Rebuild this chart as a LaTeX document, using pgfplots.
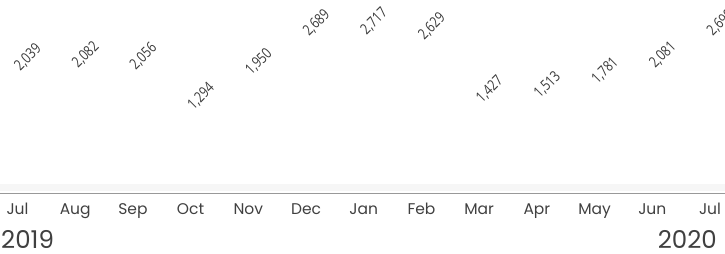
\documentclass[border=0pt]{standalone}
\usepackage{fontspec}
\usepackage{pgfplots}
\usepackage{pgfplotstable}
\pgfplotsset{compat=1.18}
\setmainfont{Poppins}
\newfontfamily\valfont[FakeStretch=0.8]{Open Sans}
\definecolor{lab}{HTML}{3A3A3A}
\definecolor{tickc}{HTML}{404040}

\pgfplotstableread{
x v
0 2039
1 2082
2 2056
3 1294
4 1950
5 2689
6 2717
7 2629
8 1427
9 1513
10 1781
11 2081
12 2690
}\data

\begin{document}
\begin{tikzpicture}
\begin{axis}[
  at={(0pt,0pt)}, anchor=south west,
  scale only axis, width=725pt, height=193pt,
  xmin=-0.303, xmax=12.26, ymin=-285, ymax=3378,
  axis x line*=bottom, axis y line=none,
  x axis line style={-, draw=gray!80, line width=0.8pt},
  ytick=\empty,
  xtick={0,...,12},
  xticklabels={Jul,Aug,Sep,Oct,Nov,Dec,Jan,Feb,Mar,Apr,May,Jun,Jul},
  major tick length=0pt,
  xticklabel style={anchor=base, yshift=-22pt, font=\fontsize{15.5}{17}\selectfont, text=tickc},
  clip=false,
  /pgf/number format/assume math mode=true,
  /pgf/number format/1000 sep={,},
]
\path[fill=gray!7] ([yshift=1.5pt]rel axis cs:0,0) rectangle ([yshift=9pt]rel axis cs:1,0);
\addplot[draw=none, mark=none, nodes near coords,
  every node near coord/.append style={anchor=base west, rotate=45, inner sep=0pt,
     xshift=1.5pt, yshift=-2.5pt, font=\valfont\fontsize{15}{17}\selectfont, text=lab}]
  table[x=x, y=v] {\data};
\end{axis}
\node[anchor=base west, inner sep=0pt, font=\fontsize{24.5}{27}\selectfont, text=tickc] at (1pt,-55pt) {2019};
\node[anchor=base east, inner sep=0pt, font=\fontsize{24.5}{27}\selectfont, text=tickc] at (717pt,-55pt) {2020};
\pgfresetboundingbox
\path (0pt,-61pt) rectangle (725pt,193pt);
\end{tikzpicture}
\end{document}
